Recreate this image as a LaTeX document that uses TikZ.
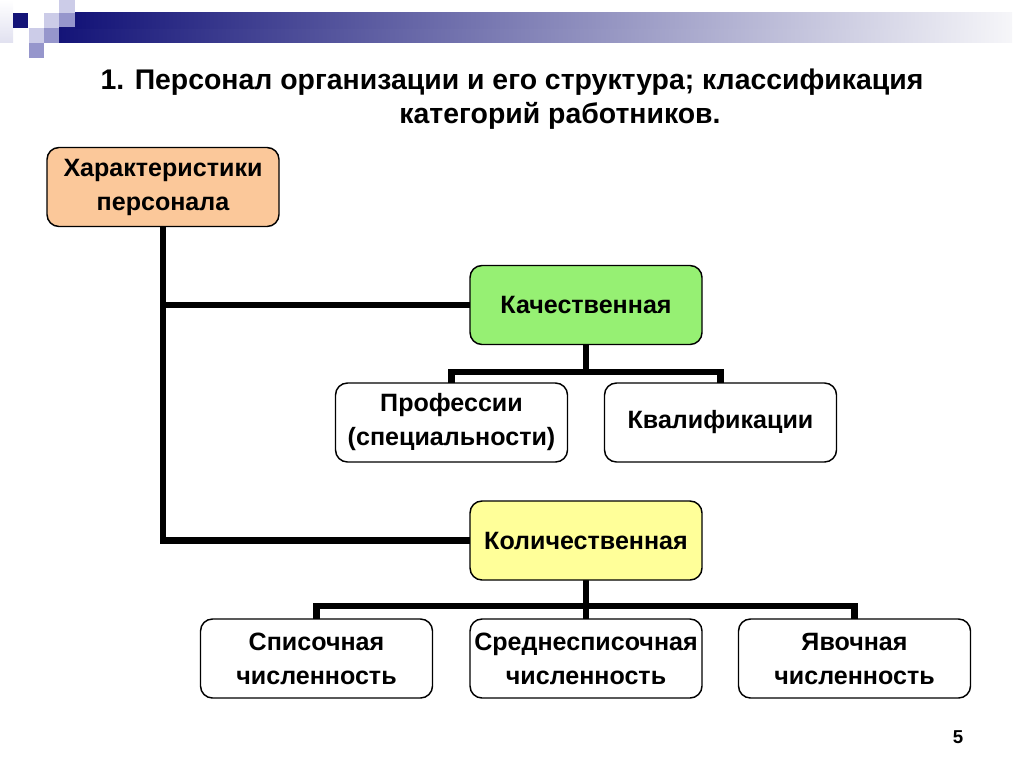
\documentclass[tikz,border=0pt]{standalone}
\usepackage{fontspec}
\setmainfont{Liberation Sans}
\usetikzlibrary{backgrounds}
\definecolor{navy}{RGB}{20,20,120}
\definecolor{sqlight}{RGB}{204,204,232}
\definecolor{sqmid}{RGB}{150,150,204}
\definecolor{peach}{RGB}{251,200,154}
\definecolor{lgreen}{RGB}{150,240,115}
\definecolor{lyellow}{RGB}{255,255,153}
\tikzset{
  box/.style={draw=black, line width=1.1pt, rounded corners=9pt, minimum width=232*0.75pt, minimum height=79*0.75pt, align=center, font=\fontsize{18.8}{25.5}\selectfont\bfseries, inner sep=0pt},
  conn/.style={line width=4.6pt, line join=miter, line cap=rect}
}
\begin{document}
\begin{tikzpicture}[x=0.75pt,y=-0.75pt]
\useasboundingbox (0,0) rectangle (1024,767);
% decoration
\shade[top color=white, bottom color={rgb,255:red,225;green,225;blue,240}] (0,0) rectangle (13,43);
\fill[navy] (13,13) rectangle (28,28);
\fill[sqlight] (44,13) rectangle (59,28);
\fill[sqmid] (59,13) rectangle (75,28);
\fill[sqlight] (59,0) rectangle (75,13);
\fill[sqlight] (29,28) rectangle (44,43);
\fill[sqmid] (44,28) rectangle (59,43);
\fill[sqmid] (29,43) rectangle (44,58);
\shade[left color=navy, middle color={rgb,255:red,175;green,175;blue,208}, right color={rgb,255:red,246;green,246;blue,249}] (59,28) rectangle (1012,43);
\shade[left color=navy, middle color={rgb,255:red,175;green,175;blue,208}, right color={rgb,255:red,246;green,246;blue,249}] (75,13) rectangle (1012,28.5);
% title
\node[font=\fontsize{21.3}{25}\selectfont\bfseries] (t1) at (512,82) {1. Персонал организации и его структура; классификация};
\node[font=\fontsize{21.3}{25}\selectfont\bfseries] (t2) at (560,116) {категорий работников.};
% boxes
\node[box, fill=peach] (char) at (163,187) {Характеристики\\персонала};
\node[box, fill=lgreen] (kach) at (586,305) {Качественная};
\node[box, fill=white] (prof) at (451.5,422.5) {Профессии\\(специальности)};
\node[box, fill=white] (kval) at (720.5,422.5) {Квалификации};
\node[box, fill=lyellow] (kol) at (586,540.5) {Количественная};
\node[box, fill=white] (spis) at (316.5,658.5) {Списочная\\численность};
\node[box, fill=white] (sred) at (586,658.5) {Среднесписочная\\численность};
\node[box, fill=white] (yav) at (854.5,658.5) {Явочная\\численность};
\node[font=\fontsize{14}{16}\selectfont\bfseries] (num) at (958,737) {5};
\coordinate (b1) at (586,372);
\coordinate (b2) at (586,606);
\begin{scope}[on background layer]
\draw[conn] (char.south) |- (kol.west);
\draw[conn] (char.south |- kach.west) -- (kach.west);
\draw[conn] (kach.south) -- (b1);
\draw[conn] (prof.north) |- (b1) -| (kval.north);
\draw[conn] (kol.south) -- (sred.north);
\draw[conn] (spis.north) |- (b2) -| (yav.north);
\end{scope}
\end{tikzpicture}
\end{document}
